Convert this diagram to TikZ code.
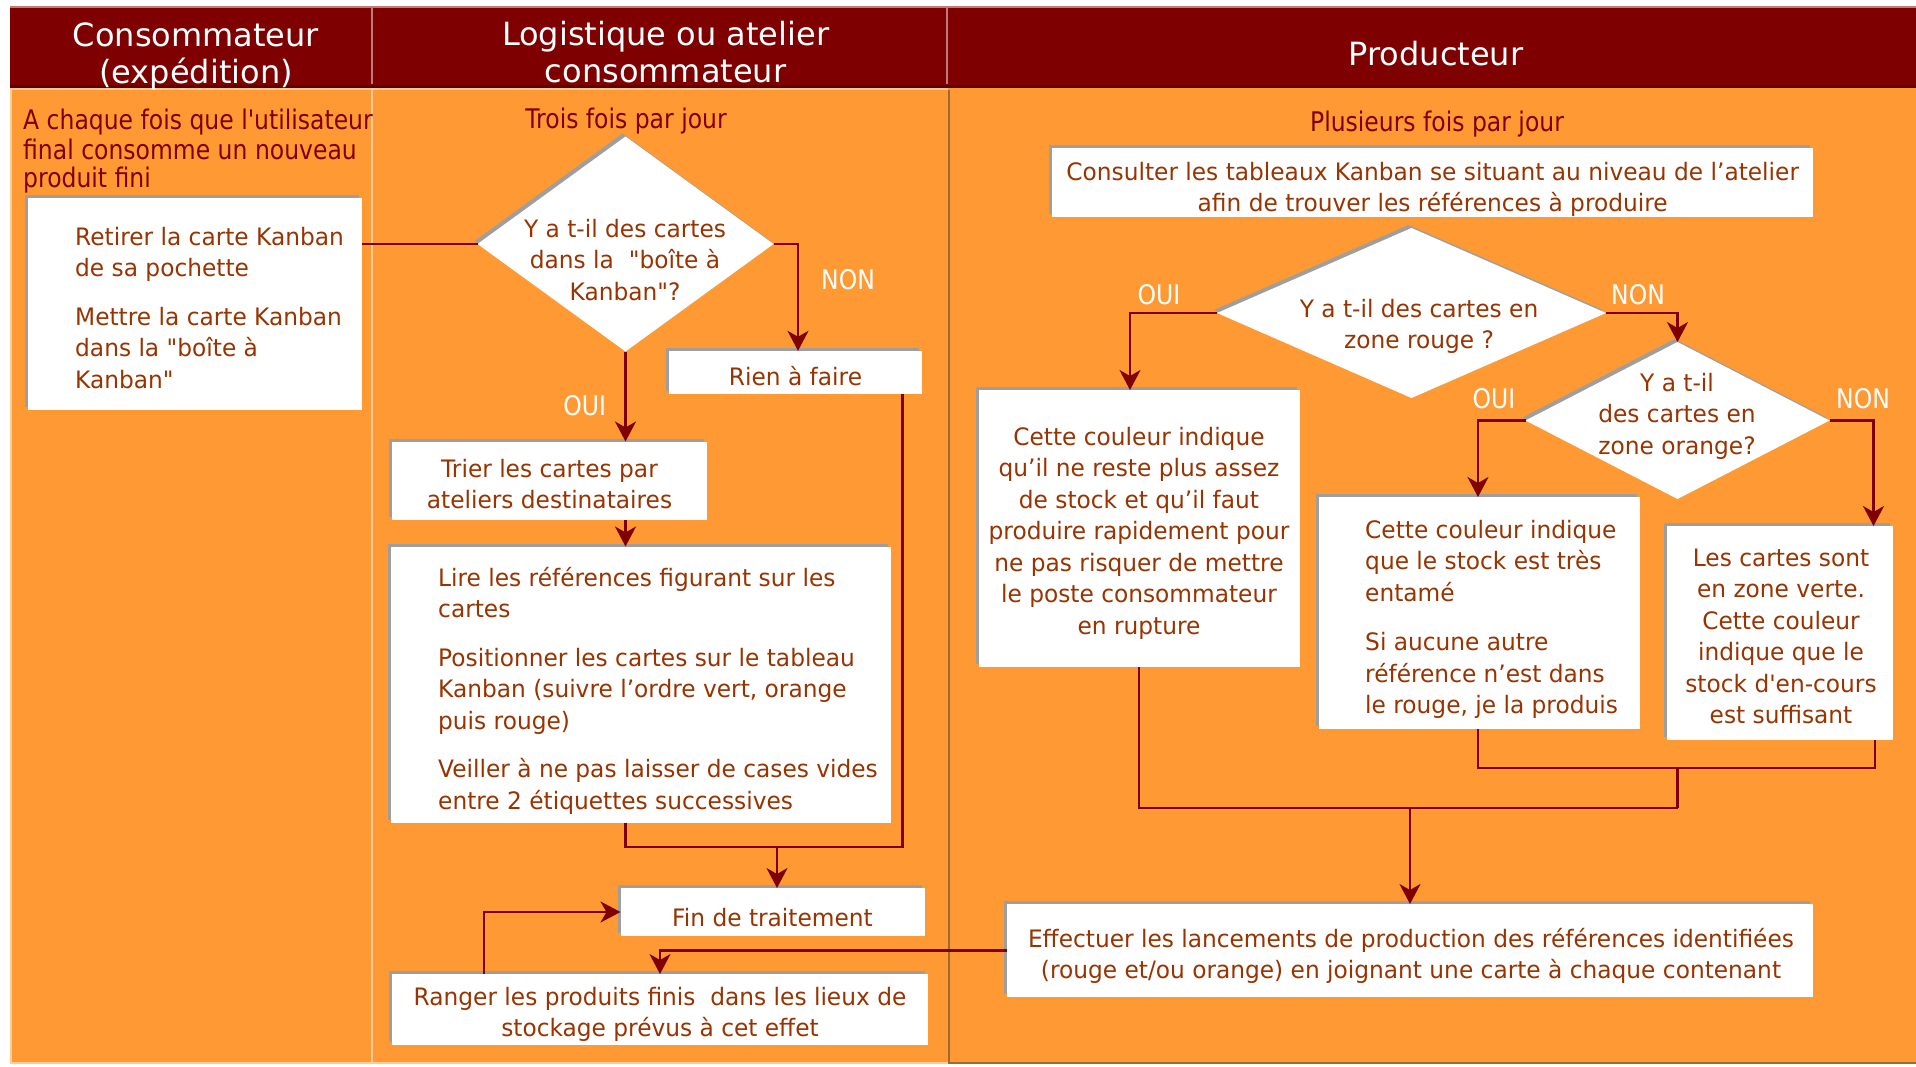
\documentclass[tikz,border=0pt]{standalone}
\usepackage{fontspec}
\usetikzlibrary{arrows.meta,shapes.geometric,shadows,calc}

% Fonts
\newfontfamily\dvhead{DejaVu Sans}
\newfontfamily\dvbox[FakeStretch=0.97]{DejaVu Sans}
\newfontfamily\dvcond[FakeStretch=0.87]{DejaVu Sans}
\newcommand\hdfont{\dvhead\fontsize{32}{37}\selectfont}
\newcommand\bxfont{\dvbox\fontsize{24}{31.5}\selectfont}
\newcommand\ntfont{\dvcond\fontsize{27}{28}\selectfont}

% Colours
\definecolor{hdr}{HTML}{7F0000}
\definecolor{hdrdark}{HTML}{5C0000}
\definecolor{hdrsep}{HTML}{C07A7A}
\definecolor{lane}{HTML}{FF9933}
\definecolor{cream}{HTML}{FFCC99}
\definecolor{laneborder}{HTML}{9C6A33}
\definecolor{shgray}{HTML}{9E9E9E}
\definecolor{boxtxt}{HTML}{993300}
\definecolor{notetxt}{HTML}{800000}
\definecolor{linecol}{HTML}{800000}

\tikzset{
  box/.style={rectangle, fill=white, inner sep=0pt, outer sep=0pt,
    general shadow={fill=shgray, shadow xshift=-3pt, shadow yshift=3pt}},
  dia/.style={diamond, fill=white, inner sep=0pt, outer sep=0pt,
    general shadow={fill=shgray, shadow xshift=-3pt, shadow yshift=3pt}},
  btext/.style={font=\bxfont, text=boxtxt, inner sep=0pt, align=center},
  ltext/.style={font=\bxfont, text=boxtxt, inner sep=0pt, align=left, anchor=north west},
  note/.style={font=\ntfont, text=notetxt, inner sep=0pt},
  yesno/.style={font=\ntfont, text=white, inner sep=0pt, anchor=base},
  htext/.style={font=\hdfont, text=white, inner sep=0pt, align=center},
  flow/.style={draw=linecol, line width=2.4pt},
  arrow/.style={flow, -{Stealth[length=20pt,width=21pt,inset=6pt]}},
}

\begin{document}
\begin{tikzpicture}[x=1pt,y=-1pt]
\useasboundingbox (0,0) rectangle (1916,1066);
\fill[white] (0,0) rectangle (1916,1066);

% Header band
\fill[hdrsep] (10,5.5) rectangle (1916,8);
\fill[hdr] (10,8) rectangle (1916,86);
\fill[hdrdark] (10,85) rectangle (1916,88);
\draw[hdrsep, line width=2pt] (372,8) -- (372,84);
\draw[hdrsep, line width=2pt] (947,8) -- (947,84);

% Swimlanes
\fill[lane] (10,88) rectangle (1916,1063);
\draw[cream, line width=2pt] (11,89) -- (11,1063);
\draw[cream, line width=2pt] (10,89) -- (948,89);
\draw[cream, line width=2pt] (372,88) -- (372,1063);
\draw[cream, line width=2pt] (10,1063) -- (948,1063);
\draw[laneborder, line width=2.5pt] (949,90) -- (949,1063) -- (1916,1063);

% Header titles
\node[htext, anchor=north] (h1) at (196,20.1) {\strut Consommateur\\(expédition)\strut};
\node[htext, anchor=north] (h2) at (665.6,19) {\strut Logistique ou atelier\\consommateur\strut};
\node[htext, anchor=base] (h3) at (1436,65) {Producteur};

% Lane notes
\node[note, anchor=north west, align=left] (lane1note) at (23,108.7)
  {\strut A chaque fois que l'utilisateur\\final consomme un nouveau\\produit fini\strut};
\node[note, anchor=base] (lane2note) at (626,128) {Trois fois par jour};
\node[note, anchor=base] (lane3note) at (1437,131) {Plusieurs fois par jour};

% Consumer lane
\node[box, minimum width=334pt, minimum height=212pt] (b1) at (195,304) {};
\node[ltext] (b1t) at (75,223)
  {\strut Retirer la carte Kanban\\de sa pochette\\[17pt]Mettre la carte Kanban\\dans la "boîte à\\Kanban"\strut};

% Logistics lane
\node[dia, minimum width=296pt, minimum height=215pt] (d1) at (625.5,244) {};
\node[btext, anchor=north] (d1t) at (625,215)
  {\strut Y a t-il des cartes\\dans la\ \ "boîte à\\Kanban"?\strut};
\node[box, minimum width=253pt, minimum height=43pt] (rien) at (795,372.3) {};
\node[btext, anchor=base] (rient) at (795.5,385) {Rien à faire};
\node[box, minimum width=315pt, minimum height=78pt] (trier) at (549.5,480.5) {};
\node[btext, anchor=north] (triert) at (549.5,455)
  {\strut Trier les cartes par\\ateliers destinataires\strut};
\node[box, minimum width=500pt, minimum height=276pt] (lire) at (640.5,684.5) {};
\node[ltext] (liret) at (438,564)
  {\strut Lire les références figurant sur les\\cartes\\[17pt]Positionner les cartes sur le tableau\\Kanban (suivre l’ordre vert, orange\\puis rouge)\\[17pt]Veiller à ne pas laisser de cases vides\\entre 2 étiquettes successives\strut};
\node[box, minimum width=304pt, minimum height=48pt] (fin) at (772.5,912) {};
\node[btext, anchor=base] (fint) at (772.5,926) {Fin de traitement};
\node[box, minimum width=536pt, minimum height=71pt] (ranger) at (660,1009.5) {};
\node[btext, anchor=north] (rangert) at (660,983)
  {\strut Ranger les produits finis\ \ dans les lieux de\\stockage prévus à cet effet\strut};

% Producer lane
\node[box, minimum width=761pt, minimum height=69pt] (consult) at (1432.5,182.5) {};
\node[btext, anchor=north] (consultt) at (1432.7,158)
  {\strut Consulter les tableaux Kanban se situant au niveau de l’atelier\\afin de trouver les références à produire\strut};
\node[dia, minimum width=389pt, minimum height=170pt] (d2) at (1411.5,313) {};
\node[btext, anchor=north] (d2t) at (1419,295) {\strut Y a t-il des cartes en\\zone rouge ?\strut};
\node[dia, minimum width=304pt, minimum height=157pt] (d3) at (1677.5,420.5) {};
\node[btext, anchor=north] (d3t) at (1677,369) {\strut Y a t-il\\des cartes en\\zone orange?\strut};
\node[box, minimum width=321pt, minimum height=277pt] (r1) at (1139.5,528.5) {};
\node[btext, anchor=north] (r1t) at (1139,423)
  {\strut Cette couleur indique\\qu’il ne reste plus assez\\de stock et qu’il faut\\produire rapidement pour\\ne pas risquer de mettre\\le poste consommateur\\en rupture\strut};
\node[box, minimum width=321pt, minimum height=232pt] (r2) at (1479.5,613) {};
\node[ltext] (r2t) at (1365,516)
  {\strut Cette couleur indique\\que le stock est très\\entamé\\[18pt]Si aucune autre\\référence n’est dans\\le rouge, je la produis\strut};
\node[box, minimum width=226pt, minimum height=214pt] (r3) at (1780,633) {};
\node[btext, anchor=north] (r3t) at (1781,544)
  {\strut Les cartes sont\\en zone verte.\\Cette couleur\\indique que le\\stock d'en-cours\\est suffisant\strut};
\node[box, minimum width=806pt, minimum height=93pt] (eff) at (1410,950.5) {};
\node[btext, anchor=north] (efft) at (1411,925)
  {\strut Effectuer les lancements de production des références identifiées\\(rouge et/ou orange) en joignant une carte à chaque contenant\strut};

% Decision labels
\node[yesno] (oui1) at (584.7,415) {OUI};
\node[yesno] (non1) at (848,289) {NON};
\node[yesno] (oui2) at (1159,304) {OUI};
\node[yesno] (non2) at (1638,304) {NON};
\node[yesno] (oui3) at (1494,408) {OUI};
\node[yesno] (non3) at (1863,408) {NON};

% Connectors: logistics
\draw[flow] (b1.east |- d1.west) -- (d1.west);
\draw[arrow] (d1.east) -| ([xshift=3pt]rien.north);
\draw[arrow] (d1.south) -- (d1.south |- trier.north);
\draw[arrow] (d1.south |- trier.south) -- (d1.south |- lire.north);
\coordinate (m1) at (777,847);
\draw[flow] ([xshift=-19pt]rien.south east) |- (m1);
\draw[flow] (d1.south |- lire.south) |- (m1);
\draw[arrow] (m1) -- (m1 |- fin.north);
\draw[arrow] ([xshift=-176pt]ranger.north) |- (fin.west);
\draw[arrow] (eff.west) -| (ranger.north);

% Connectors: producer
\draw[arrow] (d2.west) -| ([xshift=-9.5pt]r1.north);
\draw[arrow] (d2.east) -| (d3.north);
\draw[arrow] (d3.west) -| ([xshift=-1.5pt]r2.north);
\draw[arrow] (d3.east) -| ([xshift=93.5pt]r3.north);
\coordinate (m2) at (1677.5,768);
\coordinate (m3) at (1410,808);
\draw[flow] ([xshift=-1.5pt]r2.south) |- (m2);
\draw[flow] ([xshift=95pt]r3.south) |- (m2);
\draw[flow] (m2) -- (m2 |- m3);
\draw[flow] ([xshift=-0.5pt]r1.south) |- (m2 |- m3);
\draw[arrow] (m3) -- (m3 |- eff.north);
\end{tikzpicture}
\end{document}
